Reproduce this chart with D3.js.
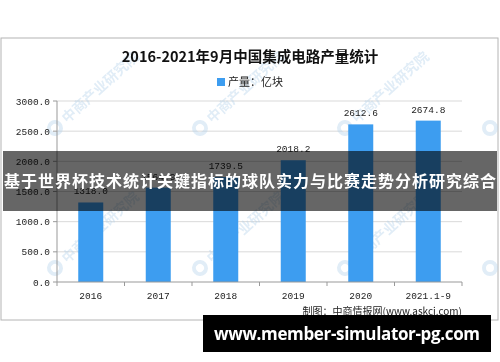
<!DOCTYPE html>
<html>
<head>
<meta charset="utf-8">
<script src="https://cdn.jsdelivr.net/npm/d3@7"></script>
<style>
  html, body { margin: 0; padding: 0; background: #fff; }
  svg { display: block; }
</style>
</head>
<body>
<div id="chart"></div>
<script>
// 数据：2016-2021年9月中国集成电路产量（亿块）
const categories = ["2016", "2017", "2018", "2019", "2020", "2021.1-9"];
const output = [1318.0, 1564.9, 1739.5, 2018.2, 2612.6, 2674.8];
const yTicks = [0, 500, 1000, 1500, 2000, 2500, 3000];

const W = 500, H = 362;
const svg = d3.select('#chart').append('svg')
    .attr('width', W)
    .attr('height', H);

// 外框
svg.append('rect')
    .attr('x', 1).attr('y', 38)
    .attr('width', 497).attr('height', 282)
    .attr('fill', '#fff')
    .attr('stroke', '#b4b4b4');

const x = d3.scaleBand().domain(categories).range([57, 462]);
const y = d3.scaleLinear().domain([0, 3000]).range([282, 101]);

// 网格线
svg.append('g').selectAll('line')
    .data(yTicks.filter(d => d > 0))
    .enter().append('line')
    .attr('x1', 57).attr('x2', 462)
    .attr('y1', d => y(d)).attr('y2', d => y(d))
    .attr('stroke', '#d9d9d9');

// 水印
const wm = svg.append('g').attr('fill', '#b3d1ea').attr('opacity', 0.4)
    .style('font-family', '"Noto Sans CJK SC", sans-serif')
    .style('font-size', '14px').style('font-weight', 'bold');
[[55, 128], [200, 128], [345, 128], [55, 268], [200, 268], [345, 268]]
    .forEach(([wx, wy]) => {
        const g = wm.append('g').attr('transform', `translate(${wx},${wy}) rotate(-42)`);
        g.append('circle').attr('cx', 0).attr('cy', 0).attr('r', 6)
            .attr('fill', 'none').attr('stroke', '#b3d1ea').attr('stroke-width', 4);
        g.append('text').attr('x', 12).attr('y', 5).text('中商产业研究院');
    });
[[490, 128], [490, 268]].forEach(([wx, wy]) => {
    wm.append('circle').attr('cx', wx).attr('cy', wy).attr('r', 6)
        .attr('fill', 'none').attr('stroke', '#b3d1ea').attr('stroke-width', 4);
});

// 柱子
const bw = 25;
svg.append('g').selectAll('rect')
    .data(output)
    .enter().append('rect')
    .attr('x', (d, i) => x(categories[i]) + x.bandwidth() / 2 - bw / 2)
    .attr('y', d => y(d))
    .attr('width', bw)
    .attr('height', d => y(0) - y(d))
    .attr('fill', '#3d9df0');

// 数值标签
svg.append('g').selectAll('text')
    .data(output)
    .enter().append('text')
    .attr('x', (d, i) => x(categories[i]) + x.bandwidth() / 2)
    .attr('y', d => y(d) - 8)
    .attr('text-anchor', 'middle')
    .style('font-family', '"Liberation Mono", monospace')
    .style('font-size', '9.5px')
    .attr('fill', '#222')
    .text(d => d.toFixed(1));

// y 轴
const yAxis = svg.append('g');
yAxis.append('line')
    .attr('x1', 57).attr('x2', 57).attr('y1', y(3000)).attr('y2', y(0))
    .attr('stroke', '#999');
yAxis.selectAll('.yt').data(yTicks).enter().append('line')
    .attr('x1', 53).attr('x2', 57)
    .attr('y1', d => y(d)).attr('y2', d => y(d))
    .attr('stroke', '#999');
yAxis.selectAll('text').data(yTicks).enter().append('text')
    .attr('x', 50).attr('y', d => y(d) + 3.5)
    .attr('text-anchor', 'end')
    .style('font-family', '"Liberation Mono", monospace')
    .style('font-size', '9.5px')
    .attr('fill', '#222')
    .text(d => d.toFixed(1));

// x 轴
const xAxis = svg.append('g');
xAxis.append('line')
    .attr('x1', 57).attr('x2', 462).attr('y1', y(0)).attr('y2', y(0))
    .attr('stroke', '#999');
const edges = categories.map(c => x(c)).concat([x.range()[1]]);
xAxis.selectAll('.xt').data(edges).enter().append('line')
    .attr('x1', d => d).attr('x2', d => d)
    .attr('y1', y(0)).attr('y2', y(0) + 4)
    .attr('stroke', '#999');
xAxis.selectAll('text').data(categories).enter().append('text')
    .attr('x', d => x(d) + x.bandwidth() / 2)
    .attr('y', 299)
    .attr('text-anchor', 'middle')
    .style('font-family', '"Liberation Mono", monospace')
    .style('font-size', '9.5px')
    .attr('fill', '#222')
    .text(d => d);

// 标题
svg.append('text')
    .attr('x', 250).attr('y', 62)
    .attr('text-anchor', 'middle')
    .style('font-family', '"Noto Sans CJK SC", sans-serif')
    .style('font-size', '14.5px')
    .style('font-weight', 'bold')
    .attr('fill', '#111')
    .text('2016-2021年9月中国集成电路产量统计');

// 图例
svg.append('rect')
    .attr('x', 217).attr('y', 78).attr('width', 8).attr('height', 8)
    .attr('fill', '#3d9df0');
svg.append('text')
    .attr('x', 228).attr('y', 86)
    .style('font-family', '"Noto Sans CJK SC", sans-serif')
    .style('font-size', '11px')
    .attr('fill', '#222')
    .text('产量：亿块');

// 来源
svg.append('text')
    .attr('x', 462).attr('y', 315)
    .attr('text-anchor', 'end')
    .style('font-family', '"Noto Sans CJK SC", sans-serif')
    .style('font-size', '10px')
    .attr('fill', '#222')
    .text('制图：中商情报网(www.askci.com)');

// 遮罩横幅
svg.append('rect')
    .attr('x', 3).attr('y', 151).attr('width', 494).attr('height', 60)
    .attr('fill', '#000').attr('opacity', 0.6);
svg.append('text')
    .attr('x', 250).attr('y', 187)
    .attr('text-anchor', 'middle')
    .attr('textLength', 492)
    .style('font-family', '"Noto Sans CJK SC", sans-serif')
    .style('font-size', '16px')
    .style('font-weight', 'bold')
    .attr('fill', '#fff')
    .text('基于世界杯技术统计关键指标的球队实力与比赛走势分析研究综合');

// 底部网址
svg.append('rect')
    .attr('x', 203).attr('y', 315).attr('width', 288).attr('height', 37)
    .attr('fill', '#000');
svg.append('text')
    .attr('x', 347).attr('y', 340)
    .attr('text-anchor', 'middle')
    .attr('textLength', 266)
    .style('font-family', '"Open Sans", sans-serif')
    .style('font-size', '17px')
    .style('font-weight', 'bold')
    .attr('fill', '#fff')
    .text('www.member-simulator-pg.com');
</script>
</body>
</html>
